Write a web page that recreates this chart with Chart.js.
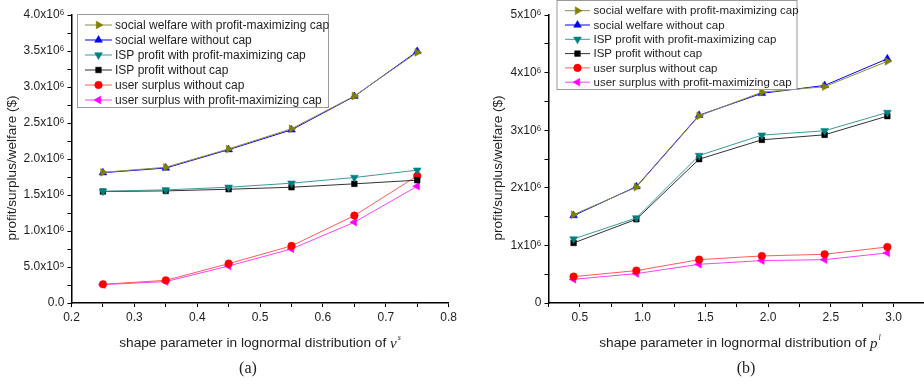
<!DOCTYPE html>
<html>
<head>
<meta charset="utf-8">
<script src="https://cdn.jsdelivr.net/npm/chart.js"></script>
<style>
  html, body { margin: 0; padding: 0; background: #fff; }
  #page { position: relative; width: 924px; height: 384px; overflow: hidden; }
  .wrap { position: absolute; top: 0; height: 384px; }
</style>
</head>
<body>
<div id="page">
  <div class="wrap" style="left:0;width:460px"><canvas id="chartA" width="460" height="384"></canvas></div>
  <div class="wrap" style="left:460px;width:470px"><canvas id="chartB" width="470" height="384"></canvas></div>
</div>
<script>
/* ---------- data: panel (a) ---------- */
const seriesNames = [
  'social welfare with profit-maximizing cap',
  'social welfare without cap',
  'ISP profit with profit-maximizing cap',
  'ISP profit without cap',
  'user surplus without cap',
  'user surplus with profit-maximizing cap'
];

const aX         = [0.25, 0.35, 0.45, 0.55, 0.65, 0.75];
const aWelfCap   = [1.815e6, 1.885e6, 2.14e6, 2.42e6, 2.875e6, 3.48e6];
const aWelfNo    = [1.81e6, 1.875e6, 2.13e6, 2.405e6, 2.87e6, 3.495e6];
const aIspCap    = [1.553e6, 1.571e6, 1.608e6, 1.664e6, 1.743e6, 1.845e6];
const aIspNo     = [1.548e6, 1.557e6, 1.58e6, 1.608e6, 1.655e6, 1.706e6];
const aUserNo    = [0.26e6, 0.315e6, 0.547e6, 0.793e6, 1.214e6, 1.766e6];
const aUserCap   = [0.255e6, 0.297e6, 0.514e6, 0.751e6, 1.122e6, 1.622e6];

const aXTicks      = [0.2, 0.3, 0.4, 0.5, 0.6, 0.7, 0.8];
const aXTickLabels = ['0.2', '0.3', '0.4', '0.5', '0.6', '0.7', '0.8'];
const aYTicks      = [0, 0.5e6, 1e6, 1.5e6, 2e6, 2.5e6, 3e6, 3.5e6, 4e6];
const aYTickLabels = ['0.0', '5.0x10⁵', '1.0x10⁶', '1.5x10⁶', '2.0x10⁶', '2.5x10⁶', '3.0x10⁶', '3.5x10⁶', '4.0x10⁶'];

/* ---------- data: panel (b) ---------- */
const bX         = [0.45, 0.95, 1.45, 1.95, 2.45, 2.95];
const bWelfCap   = [1.535e6, 2.01e6, 3.25e6, 3.66e6, 3.755e6, 4.195e6];
const bWelfNo    = [1.518e6, 2.02e6, 3.26e6, 3.64e6, 3.777e6, 4.24e6];
const bIspCap    = [1.112e6, 1.477e6, 2.561e6, 2.914e6, 2.99e6, 3.308e6];
const bIspNo     = [1.043e6, 1.454e6, 2.497e6, 2.833e6, 2.92e6, 3.245e6];
const bUserNo    = [0.458e6, 0.562e6, 0.753e6, 0.817e6, 0.846e6, 0.973e6];
const bUserCap   = [0.411e6, 0.51e6, 0.672e6, 0.736e6, 0.753e6, 0.869e6];

const bXTicks      = [0.5, 1.0, 1.5, 2.0, 2.5, 3.0];
const bXTickLabels = ['0.5', '1.0', '1.5', '2.0', '2.5', '3.0'];
const bYTicks      = [0, 1e6, 2e6, 3e6, 4e6, 5e6];
const bYTickLabels = ['0', '1x10⁶', '2x10⁶', '3x10⁶', '4x10⁶', '5x10⁶'];

/* ---------- styles ---------- */
const SANS = '"Liberation Sans", Arial, sans-serif';
const TEXT = '#1e1e1e';

// line colour, marker colour, marker shape, rotation
const looks = [
  { line: '#8c8c4c', mark: '#808000', shape: 'triangle', rot: 90,  r: 4.5 },
  { line: '#0000ff', mark: '#0000ff', shape: 'triangle', rot: 0,   r: 4.5 },
  { line: '#3a9a9a', mark: '#008080', shape: 'triangle', rot: 180, r: 4.5 },
  { line: '#333333', mark: '#000000', shape: 'rect',     rot: 0,   r: 4   },
  { line: '#ff5a5a', mark: '#ff0000', shape: 'circle',   rot: 0,   r: 3.8 },
  { line: '#ff40ff', mark: '#ff00ff', shape: 'triangle', rot: 270, r: 4.5 }
];

function makeSets(xs, lists) {
  return lists.map((ys, i) => ({
    label: seriesNames[i],
    data: xs.map((x, j) => ({ x, y: ys[j] })),
    borderColor: looks[i].line,
    borderWidth: 1,
    backgroundColor: looks[i].mark,
    pointStyle: looks[i].shape,
    pointRotation: looks[i].rot,
    pointRadius: looks[i].r,
    pointBorderWidth: 0.5,
    pointBorderColor: looks[i].mark,
    pointBackgroundColor: looks[i].mark,
    tension: 0,
    fill: false
  }));
}

function tickLabel(ticks, labels) {
  return v => {
    const k = ticks.findIndex(t => Math.abs(t - v) < 1e-6 * Math.max(1, Math.abs(t)));
    return k < 0 ? '' : labels[k];
  };
}

function axis(min, max, step, ticks, labels, fit) {
  return {
    type: 'linear',
    min, max,
    afterFit: fit,
    grid: {
      display: true, drawOnChartArea: false, drawTicks: true,
      tickLength: 4, tickColor: '#000', tickWidth: 1
    },
    border: { display: true, color: '#000', width: 1.5 },
    ticks: {
      stepSize: step, autoSkip: false, maxRotation: 0, padding: 3,
      color: TEXT, font: { family: SANS, size: 12 },
      callback: tickLabel(ticks, labels)
    }
  };
}

/* legend drawn inside the plot, with a grey frame */
const boxLegend = {
  id: 'boxLegend',
  afterDraw(chart, args, o) {
    const ctx = chart.ctx;
    ctx.save();
    ctx.fillStyle = '#fff';
    ctx.fillRect(o.x, o.y, o.w, o.h);
    ctx.strokeStyle = '#9a9a9a';
    ctx.lineWidth = 1;
    ctx.strokeRect(o.x + 0.5, o.y + 0.5, o.w, o.h);
    ctx.font = o.size + 'px ' + SANS;
    ctx.textBaseline = 'middle';
    chart.data.datasets.forEach((ds, i) => {
      const y = o.top + i * o.step;
      ctx.strokeStyle = ds.borderColor;
      ctx.lineWidth = 1;
      ctx.beginPath();
      ctx.moveTo(o.l1, y);
      ctx.lineTo(o.l2, y);
      ctx.stroke();
      ctx.fillStyle = ds.pointBackgroundColor;
      ctx.strokeStyle = ds.pointBorderColor;
      ctx.lineWidth = 0.5;
      Chart.helpers.drawPoint(ctx, {
        pointStyle: ds.pointStyle, rotation: ds.pointRotation,
        radius: ds.pointRadius, borderWidth: 0.5
      }, (o.l1 + o.l2) / 2, y);
      ctx.fillStyle = TEXT;
      ctx.fillText(ds.label, o.tx, y + 0.5);
    });
    ctx.restore();
  }
};

/* axis titles and panel caption */
const captions = {
  id: 'captions',
  afterDraw(chart, args, o) {
    const ctx = chart.ctx;
    ctx.save();
    ctx.fillStyle = TEXT;
    ctx.textBaseline = 'middle';
    // y title
    ctx.font = '13.5px ' + SANS;
    ctx.save();
    ctx.translate(o.yx, o.yy);
    ctx.rotate(-Math.PI / 2);
    ctx.textAlign = 'center';
    ctx.fillText(o.yText, 0, 0);
    ctx.restore();
    // x title: plain text + italic variable + superscript
    ctx.textAlign = 'left';
    const fBase = '13.7px ' + SANS;
    const fVar = 'italic 15px "Liberation Serif", "Times New Roman", serif';
    const fSup = 'italic 8px "Liberation Serif", "Times New Roman", serif';
    ctx.font = fBase; const w1 = ctx.measureText(o.xText).width;
    ctx.font = fVar;  const w2 = ctx.measureText(o.xVar).width;
    ctx.font = fSup;  const w3 = ctx.measureText(o.xSup).width;
    let x = o.xx - (w1 + w2 + w3 + 1) / 2;
    ctx.font = fBase; ctx.fillText(o.xText, x, o.xy); x += w1;
    ctx.font = fVar;  ctx.fillText(o.xVar, x, o.xy + 1); x += w2 + 1;
    ctx.font = fSup;  ctx.fillText(o.xSup, x, o.xy - 5);
    // caption
    ctx.font = '16px "Liberation Serif", "Times New Roman", serif';
    ctx.textAlign = 'center';
    ctx.fillText(o.cap, o.cx, o.cy);
    ctx.restore();
  }
};

/* ---------- panel (a) ---------- */
new Chart(document.getElementById('chartA'), {
  type: 'line',
  data: { datasets: makeSets(aX, [aWelfCap, aWelfNo, aIspCap, aIspNo, aUserNo, aUserCap]) },
  plugins: [boxLegend, captions],
  options: {
    responsive: false,
    animation: false,
    layout: { padding: { left: 0, top: 15, right: 10.5, bottom: 0 } },
    plugins: {
      legend: { display: false },
      tooltip: { enabled: false },
      boxLegend: { x: 77, y: 14, w: 251, h: 93, top: 25, step: 15, l1: 85, l2: 112, tx: 115, size: 12 },
      captions: {
        yText: 'profit/surplus/welfare ($)', yx: 12, yy: 168,
        xText: 'shape parameter in lognormal distribution of ', xVar: 'v', xSup: 's', xx: 260, xy: 343,
        cap: '(a)', cx: 248, cy: 369
      }
    },
    scales: {
      x: axis(0.2, 0.8, 0.05, aXTicks, aXTickLabels, s => { s.height = 81; }),
      y: axis(0, 4e6, 0.25e6, aYTicks, aYTickLabels, s => { s.width = 71.5; })
    }
  }
});

/* ---------- panel (b) ---------- */
new Chart(document.getElementById('chartB'), {
  type: 'line',
  data: { datasets: makeSets(bX, [bWelfCap, bWelfNo, bIspCap, bIspNo, bUserNo, bUserCap]) },
  plugins: [boxLegend, captions],
  options: {
    responsive: false,
    animation: false,
    layout: { padding: { left: 0, top: 15, right: 4, bottom: 0 } },
    plugins: {
      legend: { display: false },
      tooltip: { enabled: false },
      boxLegend: { x: 96.5, y: 0, w: 240, h: 89, top: 10.7, step: 14.3, l1: 105, l2: 130, tx: 133.5, size: 11.5 },
      captions: {
        yText: 'profit/surplus/welfare ($)', yx: 38, yy: 168,
        xText: 'shape parameter in lognormal distribution of ', xVar: 'p', xSup: 'l', xx: 280, xy: 343,
        cap: '(b)', cx: 286, cy: 369
      }
    },
    scales: {
      x: axis(0.25, 3.25, 0.25, bXTicks, bXTickLabels, s => { s.height = 81; }),
      y: axis(0, 5e6, 0.5e6, bYTicks, bYTickLabels, s => { s.width = 88.5; })
    }
  }
});
</script>
</body>
</html>
